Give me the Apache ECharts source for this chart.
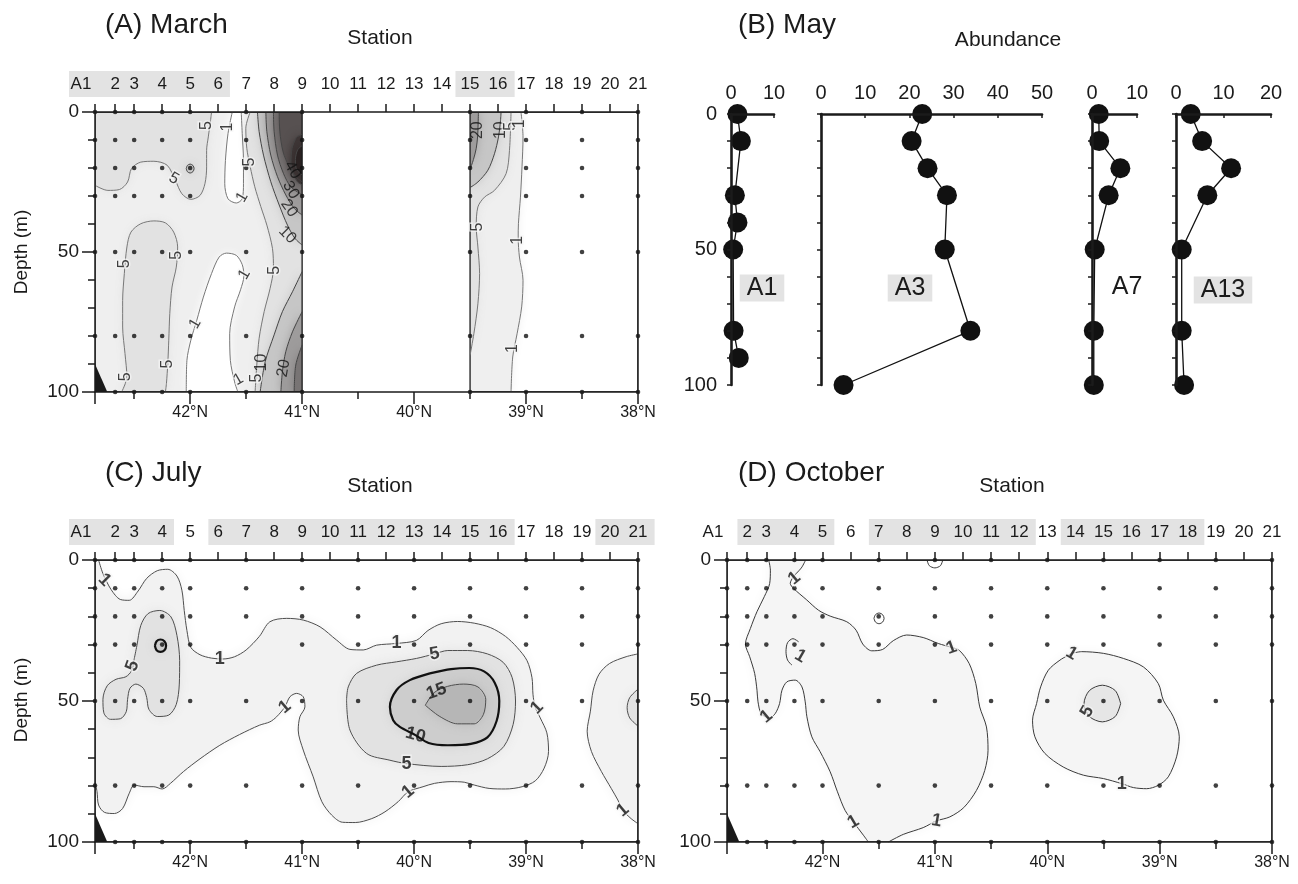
<!DOCTYPE html>
<html>
<head>
<meta charset="utf-8">
<script src="https://cdn.jsdelivr.net/npm/echarts@6/dist/echarts.min.js"></script>
<style>
html,body{margin:0;padding:0;background:#fff}
#chart{width:1298px;height:884px}
</style>
</head>
<body>
<div id="chart"></div>
<script>
// ---------- stations along the section ----------
const stationNames = ['A1','2','3','4','5','6','7','8','9','10','11','12','13','14','15','16','17','18','19','20','21'];
const stationLat = [42.85,42.67,42.5,42.25,42.0,41.75,41.5,41.25,41.0,40.75,40.5,40.25,40.0,39.75,39.5,39.25,39.0,38.75,38.5,38.25,38.0];
const latLabelTicks = [38,39,40,41,42];
const latHalfTicks = [38.5,39.5,40.5,41.5,42.5];

// ---------- sampling casts (station, depths sampled) ----------
const marchCastStations = ['A1','2','3','4','5','7','9','15','17','19','21'];
const marchCastDepths = [
  [0,10,20,30,50,80],[0,10,20,30,50,80,100],[0,10,20,30,50,80,100],[0,10,20,30,50,80,100],
  [0,10,20,30,50,80,100],[0,10,20,50,80,100],[0,10,20,30,50,80,100],[0,10,20,30,50,80,100],
  [0,10,20,30,50,80,100],[0,10,20,30,50,80,100],[0,10,20,30,50,80,100]
];
const julyCastStations = ['A1','2','3','4','5','7','9','11','13','15','17','19','21'];
const julyCastDepths = [
  [0,10,20,30,50,80],[0,10,20,30,50,80,100],[0,10,20,30,50,80,100],[0,10,20,30,50,80,100],
  [0,10,20,30,50,80,100],[0,10,20,50,80,100],[0,10,20,30,50,80,100],[0,10,20,30,50,80,100],
  [0,10,20,30,50,80,100],[0,10,20,30,50,80,100],[0,10,20,30,50,80,100],[0,10,20,30,50,80,100],
  [0,10,20,30,50,80,100]
];
const octoberCastStations = ['A1','2','3','4','5','7','9','11','13','15','17','19','21'];
const octoberCastDepths = [
  [0,10,20,30,50,80],[0,10,20,30,50,80,100],[0,10,20,30,50,80,100],[0,10,20,30,50,80,100],
  [0,10,20,30,50,80,100],[0,10,20,30,50,80,100],[0,10,20,30,50,80,100],[0,10,20,30,50,80,100],
  [0,10,20,30,50,80,100],[0,10,20,30,50,80,100],[0,10,20,30,50,80,100],[0,10,20,30,50,80,100],
  [0,10,20,30,50,80,100]
];

// station-label groups shown on a grey band
const marchHighlight = [['A1','6'],['15','16']];
const julyHighlight = [['A1','4'],['6','16'],['20','21']];
const octoberHighlight = [['2','5'],['7','12'],['14','18']];

// sea floor at the northern end [lat, depth]
const seafloor = [[42.85,90],[42.85,100],[42.74,100]];

// ---------- March: contoured sections [lat, depth] ----------
// data coverage blocks: [north lat, south lat, base band]
const marchBlocks = [[42.85,41.0,1],[39.5,38.0,0]];
// no-data gap between the blocks
const marchGap = [[41.0,39.5]];
const mA5TopLeft = [[42.85,26.2],[42.735,28.0],[42.632,27.7],[42.559,25.0],[42.524,20.2],[42.441,17.9],[42.324,17.6],[42.206,19.0],[42.132,24.4],[42.074,29.2],[41.994,31.2],[41.912,29.8],[41.868,25.6],[41.853,19.6],[41.853,13.7],[41.838,8.9],[41.818,3.0],[41.809,0]];
const mA10Spot = [[42.035,20.2],[42.025,21.3],[42.0,21.8],[41.975,21.3],[41.965,20.2],[41.975,19.1],[42.0,18.6],[42.025,19.1],[42.035,20.2]];
const mA5MidLeft = [[42.612,100],[42.565,94.6],[42.582,86.3],[42.603,76.8],[42.603,67.3],[42.588,57.7],[42.565,48.2],[42.529,42.9],[42.441,39.9],[42.324,38.9],[42.221,39.6],[42.147,42.9],[42.112,48.2],[42.124,55.4],[42.162,62.5],[42.182,72.0],[42.191,81.5],[42.2,89.9],[42.212,97],[42.221,100]];
const mA1UpperU = [[41.624,0],[41.662,7.7],[41.685,17.3],[41.691,25.6],[41.662,31.0],[41.588,32.5],[41.535,31.0],[41.524,25.6],[41.524,17.3],[41.535,7.7],[41.544,0]];
const mA1LowerU = [[42.035,100],[42.029,88.7],[41.994,81.5],[41.941,74.4],[41.882,66.1],[41.809,57.7],[41.741,51.8],[41.676,50.4],[41.588,51.2],[41.535,54.5],[41.52,58.5],[41.55,63.5],[41.603,69.6],[41.647,79.2],[41.641,88.7],[41.603,96.4],[41.574,100]];
const mA5Front = [[41.464,0],[41.503,5.8],[41.494,13.0],[41.464,19.5],[41.423,26.7],[41.369,33.8],[41.315,40.4],[41.265,48.7],[41.256,55.8],[41.286,63.0],[41.339,71.3],[41.384,80.8],[41.405,90.4],[41.42,100]];
const mA10Upper = [[41.399,0],[41.384,7.0],[41.345,15.4],[41.28,24.9],[41.205,33.2],[41.131,40.4],[41.065,45.1],[41.0,47.5]];
const mA10Lower = [[41.0,57],[41.086,64.2],[41.176,71.3],[41.25,79.6],[41.33,89.2],[41.375,100]];
const mA20Upper = [[41.324,0],[41.315,7.0],[41.28,15.4],[41.22,23.1],[41.146,29.6],[41.071,34.4],[41.0,36.8]];
const mA20Lower = [[41.0,71.3],[41.086,78.5],[41.146,85.6],[41.176,92.7],[41.19,100]];
const mA30Upper = [[41.256,0],[41.25,7.0],[41.22,15.4],[41.167,21.9],[41.101,26.7],[41.0,29.6]];
const mA30Lower = [[41.0,83.2],[41.057,90.4],[41.071,100]];
const mA40Upper = [[41.205,0],[41.199,7.0],[41.17,14.2],[41.116,19.5],[41.057,23.1],[41.0,24.9]];
const mA50Core = [[41.0,8],[41.05,9],[41.09,13],[41.1,18],[41.08,22],[41.04,25],[41.0,26]];
const mA60Core = [[41.0,12],[41.04,13.5],[41.06,17],[41.05,20.5],[41.0,22.5]];
const mA1South = [[39.045,0],[39.027,8.9],[39.036,19.6],[39.05,30.4],[39.068,39.9],[39.07,45],[39.059,51.8],[39.027,60.1],[39.039,69.6],[39.08,79.2],[39.119,87.5],[39.134,100]];
const mA5South = [[39.134,0],[39.148,13.7],[39.178,22],[39.282,28],[39.371,30.4],[39.43,33.9],[39.445,41.1],[39.43,48.2],[39.415,57.7],[39.43,68.5],[39.466,79.2],[39.5,86.9]];
const mA10South = [[39.5,27],[39.43,25],[39.341,20.8],[39.282,14.9],[39.246,8.9],[39.228,3],[39.223,0]];
const mA20South = [[39.5,20.5],[39.47,17],[39.445,13],[39.432,8.5],[39.428,4],[39.425,0]];
const marchContours = [
  {v:5,  side:1,  paths:[mA5TopLeft], edge:[[42.85,0]]},
  {v:5,  side:1,  paths:[mA5MidLeft], edge:[]},
  {v:10, side:1,  paths:[mA10Spot],   edge:[]},
  {v:1,  side:-1, paths:[mA1UpperU],  edge:[]},
  {v:1,  side:-1, paths:[mA1LowerU],  edge:[]},
  {v:5,  side:1,  paths:[mA5Front],   edge:[[41.0,100],[41.0,0]]},
  {v:10, side:1,  paths:[mA10Upper],  edge:[[41.0,0]]},
  {v:10, side:1,  paths:[mA10Lower],  edge:[[41.0,100]]},
  {v:20, side:1,  paths:[mA20Upper],  edge:[[41.0,0]]},
  {v:20, side:1,  paths:[mA20Lower],  edge:[[41.0,100]]},
  {v:30, side:1,  paths:[mA30Upper],  edge:[[41.0,0]]},
  {v:30, side:1,  paths:[mA30Lower],  edge:[[41.0,100]]},
  {v:40, side:1,  paths:[mA40Upper],  edge:[[41.0,0]]},
  {v:50, side:1,  paths:[mA50Core],   edge:[]},
  {v:60, side:1,  paths:[mA60Core],   edge:[]},
  {v:1,  side:1,  paths:[mA1South],   edge:[[39.5,100],[39.5,0]]},
  {v:5,  side:1,  paths:[mA5South],   edge:[[39.5,0]]},
  {v:10, side:1,  paths:[mA10South],  edge:[[39.5,0]]},
  {v:20, side:1,  paths:[mA20South],  edge:[[39.5,0]]}
];
// contour labels: [lat, depth, text, rotation]
const marchLabels = [
  [41.853,4.8,'5',90],[41.662,5.4,'1',90],[42.147,23.8,'5',-30],[41.471,17.9,'5',90],
  [41.535,30.4,'1',60],[42.118,51.2,'5',90],[42.588,54.2,'5',90],[41.515,58,'1',60],
  [41.25,56.5,'5',90],[41.956,75.6,'1',60],[42.205,90,'5',90],[42.574,94.6,'5',90],
  [41.57,95.5,'1',30],[41.41,95,'5',90],[41.36,89.5,'10',90],[41.165,91.5,'20',80],
  [41.086,20.7,'40',-60],[41.101,27.9,'30',-60],[41.116,34.4,'20',-55],[41.131,43.9,'10',-45],
  [39.43,6.5,'20',90],[39.223,6.5,'10',90],[39.134,5.1,'5',90],[39.055,4.2,'1',90],
  [39.43,41.1,'5',90],[39.072,45.8,'1',90],[39.119,84.5,'1',90]
];

// ---------- July ----------
const julyBlocks = [[42.85,38.0,0]];
const julyGap = [];
const mC1Main = [[42.818,0],[42.779,4.8],[42.706,10.5],[42.624,14.0],[42.544,14.3],[42.465,11.0],[42.388,6.5],[42.294,3.8],[42.2,3.3],[42.118,5.7],[42.074,10.7],[42.053,17.9],[42.029,25.0],[41.994,31.0],[41.912,33.6],[41.809,34.8],[41.706,35.1],[41.603,34.3],[41.5,31.9],[41.382,27.1],[41.288,21.9],[41.138,20.7],[40.99,21.3],[40.84,23.7],[40.692,28.4],[40.573,31.7],[40.454,31.9],[40.335,30.2],[40.156,29.6],[39.979,28.5],[39.876,25.0],[39.758,22.6],[39.611,21.8],[39.463,22.4],[39.316,24.0],[39.183,27.1],[39.08,31.0],[38.991,35.7],[38.947,41.7],[38.938,47.6],[38.92,52],[38.873,56.0],[38.814,61.3],[38.799,67.9],[38.838,73.8],[38.917,78.3],[39.035,80.4],[39.183,81.2],[39.33,81.0],[39.463,79.8],[39.552,78.8],[39.67,78.6],[39.817,79.2],[39.92,80.4],[40.053,82.2],[40.142,85.7],[40.26,89.3],[40.378,91.7],[40.525,93.1],[40.64,93.0],[40.735,90.5],[40.824,85.7],[40.901,76.9],[40.99,67.4],[41.035,60.3],[41.02,55.6],[40.975,52.1],[40.99,48.5],[41.049,47.3],[41.109,48.5],[41.154,52.1],[41.228,55.6],[41.288,57.4],[41.382,58.6],[41.559,61.9],[41.735,65.7],[41.912,70.5],[42.059,75.0],[42.176,79.2],[42.25,81.2],[42.324,80.4],[42.412,80.4],[42.5,79.8],[42.544,82.7],[42.603,88.1],[42.676,89.9],[42.765,89.5],[42.818,86.9],[42.832,82.1],[42.85,79]];
const mC1East = [[38.0,33.3],[38.106,34.3],[38.254,36.7],[38.348,40.5],[38.401,46.4],[38.425,53.6],[38.454,60.7],[38.416,67.9],[38.327,75.0],[38.239,81.0],[38.18,85.1],[38.136,88.7],[38.062,91.7],[38.0,93.5]];
const mC5East = [[38.0,45.8],[38.074,48.8],[38.097,52.4],[38.074,56.0],[38.0,58.9]];
const mC5West = [[42.5,35.1],[42.476,30.4],[42.441,23.2],[42.376,19.0],[42.271,17.9],[42.171,20.2],[42.118,26.8],[42.094,35.7],[42.097,44.0],[42.124,51.2],[42.191,55.0],[42.294,55.5],[42.368,53.0],[42.388,48.8],[42.418,45.5],[42.485,44.0],[42.538,45.5],[42.559,49.4],[42.571,53.8],[42.624,56.3],[42.712,56.5],[42.771,54.2],[42.779,49.4],[42.741,44.6],[42.662,42.3],[42.574,41.4],[42.524,39.3],[42.5,35.1]];
const mC10Spot = [[42.315,30.4],[42.3,32.0],[42.265,32.6],[42.23,32.0],[42.215,30.4],[42.23,28.8],[42.265,28.2],[42.3,28.8],[42.315,30.4]];
const mC5Core = [[40.603,49.7],[40.588,45],[40.513,40.2],[40.335,37.3],[40.156,36.1],[39.978,34.9],[39.817,33.3],[39.699,32.1],[39.522,32.1],[39.345,33.3],[39.204,36.3],[39.124,41.7],[39.094,50.0],[39.115,58.3],[39.198,66.1],[39.345,70.5],[39.522,72.6],[39.758,73.2],[40.067,72.2],[40.216,71],[40.424,68.6],[40.573,60.3],[40.603,49.7]];
const mC10Core = [[39.859,40.2],[39.67,38.7],[39.507,38.3],[39.375,39.5],[39.28,43.5],[39.239,50.0],[39.263,57.1],[39.345,62.9],[39.493,65.2],[39.699,65.7],[39.87,64.9],[39.988,62.1],[40.127,59.2],[40.187,56.8],[40.216,52.1],[40.156,46.1],[40.038,42.6],[39.859,40.2]];
const mC15Core = [[39.9,51.5],[39.82,47.0],[39.7,44.8],[39.56,44.0],[39.43,45.0],[39.36,49.4],[39.381,54.8],[39.463,58.1],[39.611,58.1],[39.77,55.5],[39.9,51.5]];
const julyContours = [
  {v:1,  side:1, paths:[mC1Main],  edge:[[42.85,0]]},
  {v:1,  side:1, paths:[mC1East],  edge:[]},
  {v:5,  side:1, paths:[mC5East],  edge:[]},
  {v:5,  side:1, paths:[mC5West],  edge:[]},
  {v:10, side:1, paths:[mC10Spot], edge:[]},
  {v:5,  side:1, paths:[mC5Core],  edge:[]},
  {v:10, side:1, paths:[mC10Core], edge:[]},
  {v:15, side:1, paths:[mC15Core], edge:[]}
];
const julyLabels = [
  [42.765,7.1,'1',-45],[42.515,37.5,'5',70],[41.735,35.1,'1',0],[41.154,52.1,'1',40],
  [40.156,29.6,'1',0],[39.817,33.3,'5',10],[39.8,46.6,'15',20],[39.988,62.1,'10',-15],
  [40.067,72.2,'5',0],[40.053,82.2,'1',40],[38.903,52.4,'1',45],[38.136,88.7,'1',40]
];

// ---------- October ----------
const octoberBlocks = [[42.85,38.0,0]];
const octoberGap = [];
const mD1West = [[42.479,0],[42.464,3.6],[42.47,8.3],[42.518,13.0],[42.583,18.3],[42.642,24.3],[42.686,29.8],[42.648,34.3],[42.604,40.2],[42.583,46.2],[42.574,50.3],[42.545,54.5],[42.47,56.0],[42.42,54.4],[42.382,50.9],[42.361,46.2],[42.317,43.2],[42.243,42.6],[42.183,45.0],[42.154,50.3],[42.139,55.6],[42.095,62.7],[42.021,68.0],[41.932,75.1],[41.867,82.2],[41.799,88.8],[41.725,92.9],[41.636,97.6],[41.592,100]];
const mD1East = [[41.414,100],[41.281,97.3],[41.104,94.9],[40.985,92.5],[40.867,91.1],[40.743,87.8],[40.63,81.7],[40.556,74.6],[40.527,67.5],[40.541,59.2],[40.601,52.1],[40.636,43.8],[40.695,36.7],[40.784,32.0],[40.852,31.0],[40.97,29.6],[41.104,27.5],[41.251,26.6],[41.37,28.6],[41.464,31.7],[41.562,32.2],[41.642,29.8],[41.701,24.9],[41.784,21.9],[41.932,19.9],[42.036,17.8],[42.145,14.0],[42.257,10.1],[42.287,8.3],[42.26,6],[42.21,3.8],[42.183,2.5],[42.15,0]];
const mD1Hook = [[42.213,29.0],[42.263,27.9],[42.311,29.3],[42.325,32.5],[42.311,35.5],[42.272,37.3]];
const mD1Ring7 = [[41.542,20.7],[41.529,22.0],[41.497,22.6],[41.465,22.0],[41.452,20.7],[41.465,19.4],[41.497,18.8],[41.529,19.4],[41.542,20.7]];
const mD1Cap9 = [[41.07,0],[41.05,2.0],[41.0,2.8],[40.95,2.0],[40.93,0]];
const mD1South = [[39.783,33.1],[39.694,32.5],[39.501,33.1],[39.323,34.9],[39.145,37.9],[39.012,43.8],[38.967,49.7],[38.878,55.6],[38.825,62.7],[38.849,69.8],[38.923,76.9],[39.012,79.9],[39.116,81.1],[39.234,80.7],[39.338,79.3],[39.501,77.5],[39.679,76.3],[39.858,73.4],[40.021,68.6],[40.11,62.7],[40.131,56.8],[40.095,50.9],[40.059,45.0],[39.991,39.1],[39.887,35.5],[39.783,33.1]];
const mD5South = [[39.347,50.9],[39.395,55.5],[39.51,57.4],[39.625,55.5],[39.673,50.9],[39.625,46.3],[39.51,44.4],[39.395,46.3],[39.347,50.9]];
const octoberContours = [
  {v:1, side:1, paths:[mD1West, mD1East], edge:[]},
  {v:1, side:0, paths:[mD1Hook],  edge:[]},
  {v:1, side:0, paths:[mD1Ring7], edge:[]},
  {v:1, side:0, paths:[mD1Cap9],  edge:[]},
  {v:1, side:1, paths:[mD1South], edge:[]},
  {v:5, side:1, paths:[mD5South], edge:[]}
];
const octoberLabels = [
  [42.25,6.5,'1',40],[42.198,34.1,'1',-30],[42.5,55.5,'1',40],[40.852,31.2,'1',20],
  [41.725,92.9,'1',30],[40.985,92.5,'1',-10],[39.783,33.1,'1',-30],[39.644,53.8,'5',60],
  [39.338,79.3,'1',0]
];

// ---------- May: vertical profiles ----------
const profileNames = ['A1','A3','A7','A13'];
const profileMax = [10,50,10,20];
const profileDepths = [
  [0,10,30,40,50,80,90],
  [0,10,20,30,50,80,100],
  [0,10,20,30,50,80,100],
  [0,10,20,30,50,80,100]
];
const profileValues = [
  [1.5,2.3,0.9,1.5,0.5,0.6,1.8],
  [22.9,20.5,24.1,28.5,28.0,33.8,5.1],
  [1.5,1.6,6.3,3.7,0.6,0.4,0.4],
  [3.1,5.5,11.6,6.6,1.2,1.2,1.7]
];

// ---------- drawing ----------
const INK = '#1b1b1b';
const FONT = '"Liberation Sans", Arial, Helvetica, sans-serif';
const LAT_MIN = 38, LAT_MAX = 42.85;
const bandBelow = {1:0,5:1,10:5,15:10,20:10,30:20,40:30,50:40,60:50};

const grids = [], xAxes = [], yAxes = [], series = [];
const lineW = 1.5;
const axisLineStyle = {color: INK, width: lineW};

function latOf(name) { return stationLat[stationNames.indexOf(name)]; }
function stationLabel(v) {
  const i = stationLat.findIndex(l => Math.abs(l - v) < 1e-6);
  if (i < 0) return '';
  return stationNames[i] === 'A1' ? '{a|A1}' : stationNames[i];
}

function contourPanel(cfg) {
  const gi = grids.length;
  grids.push({left: cfg.left, top: cfg.top, width: cfg.width, height: cfg.height, show: false, containLabel: false, outerBoundsMode: 'none'});
  const xi = xAxes.length;
  xAxes.push({gridIndex: gi, type: 'value', position: 'bottom', inverse: true, min: LAT_MIN, max: LAT_MAX, z: 6,
    axisLine: {show: true, onZero: false, lineStyle: axisLineStyle},
    axisTick: {show: true, customValues: latLabelTicks.concat([LAT_MAX]), length: 12, lineStyle: axisLineStyle},
    axisLabel: {show: true, customValues: latLabelTicks, formatter: v => v + '°N', fontSize: 16, color: INK, fontFamily: FONT, margin: 13},
    splitLine: {show: false}});
  xAxes.push({gridIndex: gi, type: 'value', position: 'bottom', inverse: true, min: LAT_MIN, max: LAT_MAX, z: 6,
    axisLine: {show: false, onZero: false},
    axisTick: {show: true, customValues: latHalfTicks, length: 7, lineStyle: axisLineStyle},
    axisLabel: {show: false}, splitLine: {show: false}});
  xAxes.push({gridIndex: gi, type: 'value', position: 'top', inverse: true, min: LAT_MIN, max: LAT_MAX, z: 6,
    axisLine: {show: true, onZero: false, lineStyle: axisLineStyle},
    axisTick: {show: true, customValues: stationLat, length: 8, lineStyle: axisLineStyle},
    axisLabel: {show: true, customValues: stationLat, formatter: stationLabel, fontSize: 17, color: INK, fontFamily: FONT, margin: 19,
      rich: {a: {fontSize: 17, color: INK, fontFamily: FONT, padding: [0, 28, 0, 0]}}},
    splitLine: {show: false}});
  const yi = yAxes.length;
  yAxes.push({gridIndex: gi, type: 'value', inverse: true, min: 0, max: 100, interval: 50, position: 'left', z: 6,
    axisLine: {show: true, onZero: false, lineStyle: axisLineStyle},
    axisTick: {show: true, length: 13, lineStyle: axisLineStyle},
    axisLabel: {show: true, fontSize: 19, color: INK, fontFamily: FONT, margin: 16},
    splitLine: {show: false}});
  yAxes.push({gridIndex: gi, type: 'value', inverse: true, min: 0, max: 100, interval: 10, position: 'left', z: 6,
    axisLine: {show: false, onZero: false},
    axisTick: {show: true, length: 7, lineStyle: axisLineStyle},
    axisLabel: {show: false}, splitLine: {show: false}});
  yAxes.push({gridIndex: gi, type: 'value', inverse: true, min: 0, max: 100, position: 'right', z: 6,
    axisLine: {show: true, onZero: false, lineStyle: axisLineStyle},
    axisTick: {show: false}, axisLabel: {show: false}, splitLine: {show: false}});

  // shaded bands: coverage blocks, then each contour's enclosed side (soft edged)
  const shapes = [];
  const rectOf = (a, b) => [[a,0],[b,0],[b,100],[a,100]];
  cfg.blocks.forEach(b => shapes.push({pts: rectOf(b[0], b[1]), fill: cfg.bands[b[2]], blur: 0}));
  cfg.contours.forEach(c => {
    if (!c.side) return;
    const pts = [].concat(...c.paths, c.edge);
    const band = c.side > 0 ? c.v : bandBelow[c.v];
    shapes.push({pts, fill: cfg.bands[band], blur: cfg.blur});
  });
  cfg.gap.forEach(g => shapes.push({pts: rectOf(g[0], g[1]), fill: '#ffffff', blur: 0}));
  cfg.blocks.forEach(b => shapes.push({pts: rectOf(b[0], b[1]), fill: 'none', stroke: INK, blur: 0}));
  series.push({type: 'custom', xAxisIndex: xi, yAxisIndex: yi, clip: true, z: 1, silent: true,
    data: shapes.map((s, i) => [40, 50, i]),
    renderItem: (params, api) => {
      const s = shapes[api.value(2)];
      return {type: 'polygon', shape: {points: s.pts.map(p => api.coord(p))},
        style: {fill: s.fill, stroke: s.stroke || 'none', lineWidth: s.stroke ? 1.3 : 0,
          shadowBlur: s.blur, shadowColor: s.blur ? s.fill : 'rgba(0,0,0,0)'}};
    }});

  // contour lines
  cfg.contours.forEach(c => {
    const st = cfg.lineStyle(c.v);
    c.paths.forEach(p => series.push({type: 'line', xAxisIndex: xi, yAxisIndex: yi, data: p, smooth: 0.3,
      symbol: 'none', clip: true, z: 3, silent: true, lineStyle: {color: st.color, width: st.width}}));
  });

  // sampling points
  const dots = [];
  cfg.castStations.forEach((s, i) => cfg.castDepths[i].forEach(d => dots.push([latOf(s), d])));
  series.push({type: 'scatter', xAxisIndex: xi, yAxisIndex: yi, data: dots, symbol: 'circle', symbolSize: 4.6,
    itemStyle: {color: '#111'}, clip: false, z: 4, silent: true});

  // sea floor wedge
  series.push({type: 'custom', xAxisIndex: xi, yAxisIndex: yi, clip: true, z: 4, silent: true, data: [[42.8, 95]],
    renderItem: (params, api) => ({type: 'polygon', shape: {points: seafloor.map(p => api.coord(p))}, style: {fill: '#1a1a1a'}})});

  // contour labels
  series.push({type: 'scatter', xAxisIndex: xi, yAxisIndex: yi, symbol: 'circle', symbolSize: 1, clip: false, z: 5, silent: true,
    itemStyle: {color: 'rgba(0,0,0,0)'},
    data: cfg.labels.map(l => ({value: [l[0], l[1]], label: {formatter: l[2], rotate: l[3],
      textBorderColor: Number(l[2]) <= 5 ? 'rgba(245,245,245,0.9)' : 'rgba(0,0,0,0)', textBorderWidth: Number(l[2]) <= 5 ? 3 : 0}})),
    label: {show: true, position: 'inside', fontSize: cfg.labelSize, color: '#111', fontFamily: FONT, fontWeight: cfg.labelWeight}});

  // grey bands behind grouped station names
  series.push({type: 'custom', xAxisIndex: xi, yAxisIndex: yi, clip: false, z: 1, silent: true,
    data: cfg.highlight.map((h, i) => [40, 50, i]),
    renderItem: (params, api) => {
      const h = cfg.highlight[api.value(2)];
      const xa = api.coord([latOf(h[0]), 0])[0];
      const xb = api.coord([latOf(h[1]), 0])[0];
      const top = api.coord([40, 0])[1];
      const x0 = h[0] === 'A1' ? xa - 26 : xa - h[0].length * 4.8 - 5;
      const x1 = xb + h[1].length * 4.8 + 7;
      return {type: 'rect', shape: {x: x0, y: top - 41, width: x1 - x0, height: 26}, style: {fill: '#e3e3e3'}};
    }});
}

const marchBands = {0:'#ffffff',1:'#efefef',5:'#e2e2e2',10:'#c6c6c6',20:'#9e9c9c',30:'#787474',40:'#575151',50:'#3e3636',60:'#2a2222'};
const julyBands = {0:'#ffffff',1:'#f2f2f2',5:'#e2e2e2',10:'#cdcdcd',15:'#b6b6b6'};
const octoberBands = {0:'#ffffff',1:'#f5f5f5',5:'#e6e6e6'};

contourPanel({left: 95, top: 112, width: 543, height: 280, blocks: marchBlocks, gap: marchGap, contours: marchContours, labels: marchLabels,
  castStations: marchCastStations, castDepths: marchCastDepths, highlight: marchHighlight, labelSize: 16, labelWeight: 'normal',
  bands: marchBands, blur: 10,
  lineStyle: v => v >= 10 ? {color: '#444', width: 1} : {color: '#777', width: 1}});
contourPanel({left: 95, top: 560, width: 543, height: 282, blocks: julyBlocks, gap: julyGap, contours: julyContours, labels: julyLabels,
  castStations: julyCastStations, castDepths: julyCastDepths, highlight: julyHighlight, labelSize: 18, labelWeight: 'bold',
  bands: julyBands, blur: 12,
  lineStyle: v => v === 10 ? {color: '#111', width: 2.2} : {color: '#4e4e4e', width: 1}});
contourPanel({left: 727, top: 560, width: 545, height: 282, blocks: octoberBlocks, gap: octoberGap, contours: octoberContours, labels: octoberLabels,
  castStations: octoberCastStations, castDepths: octoberCastDepths, highlight: octoberHighlight, labelSize: 18, labelWeight: 'bold',
  bands: octoberBands, blur: 12,
  lineStyle: v => ({color: '#3a3a3a', width: 1})});

// May profiles
const profileBoxes = [{left: 731, width: 43}, {left: 821, width: 221}, {left: 1092, width: 45}, {left: 1176, width: 95}];
profileNames.forEach((name, k) => {
  const gi = grids.length;
  grids.push({left: profileBoxes[k].left, top: 114, width: profileBoxes[k].width, height: 271, show: false, containLabel: false, outerBoundsMode: 'none'});
  const bold = {color: INK, width: 2.6};
  const xi = xAxes.length;
  xAxes.push({gridIndex: gi, type: 'value', position: 'top', min: 0, max: profileMax[k], interval: 10, z: 6,
    axisLine: {show: true, onZero: false, lineStyle: bold},
    axisTick: {show: true, inside: true, length: 4, lineStyle: {color: INK, width: 1.5}},
    axisLabel: {show: true, fontSize: 20, color: INK, fontFamily: FONT, margin: 11},
    splitLine: {show: false}});
  const yi = yAxes.length;
  yAxes.push({gridIndex: gi, type: 'value', inverse: true, min: 0, max: 100, interval: 10, position: 'left', z: 6,
    axisLine: {show: true, onZero: false, lineStyle: bold},
    axisTick: {show: true, length: 4, lineStyle: {color: INK, width: 1.5}},
    axisLabel: {show: k === 0, fontSize: 20, color: INK, fontFamily: FONT, margin: 14, formatter: v => (v % 50 === 0 ? String(v) : '')},
    splitLine: {show: false}});
  series.push({type: 'line', xAxisIndex: xi, yAxisIndex: yi, clip: false, z: 4, silent: true,
    data: profileDepths[k].map((d, i) => [profileValues[k][i], d]),
    symbol: 'circle', symbolSize: 20, itemStyle: {color: '#111'}, lineStyle: {color: '#111', width: 1.3}});
});

function txt(x, y, text, size, align, extra) {
  return Object.assign({type: 'text', x, y, z: 10, silent: true,
    style: Object.assign({text, fontSize: size, fontFamily: FONT, fill: INK, align: align, verticalAlign: 'middle',
      textAlign: align, textVerticalAlign: 'middle'}, (extra && extra.style) || {})},
    (extra && extra.el) || {});
}
const graphic = [
  txt(105, 25, '(A) March', 28, 'left'),
  txt(380, 38, 'Station', 21, 'center'),
  txt(738, 25, '(B) May', 28, 'left'),
  txt(1008, 40, 'Abundance', 21, 'center'),
  txt(105, 473, '(C) July', 28, 'left'),
  txt(380, 486, 'Station', 21, 'center'),
  txt(738, 473, '(D) October', 28, 'left'),
  txt(1012, 486, 'Station', 21, 'center'),
  txt(22, 252, 'Depth (m)', 19, 'center', {el: {rotation: Math.PI / 2}}),
  txt(22, 700, 'Depth (m)', 19, 'center', {el: {rotation: Math.PI / 2}}),
  txt(762, 288, 'A1', 25, 'center', {style: {backgroundColor: '#e3e3e3', padding: [1, 7, 1, 7]}}),
  txt(910, 288, 'A3', 25, 'center', {style: {backgroundColor: '#e3e3e3', padding: [1, 7, 1, 7]}}),
  txt(1127, 287, 'A7', 25, 'center'),
  txt(1223, 290, 'A13', 25, 'center', {style: {backgroundColor: '#e3e3e3', padding: [1, 7, 1, 7]}})
];

const chart = echarts.init(document.getElementById('chart'), null, {renderer: 'canvas'});
chart.setOption({animation: false, backgroundColor: '#ffffff', grid: grids, xAxis: xAxes, yAxis: yAxes, series, graphic});
</script>
</body>
</html>
